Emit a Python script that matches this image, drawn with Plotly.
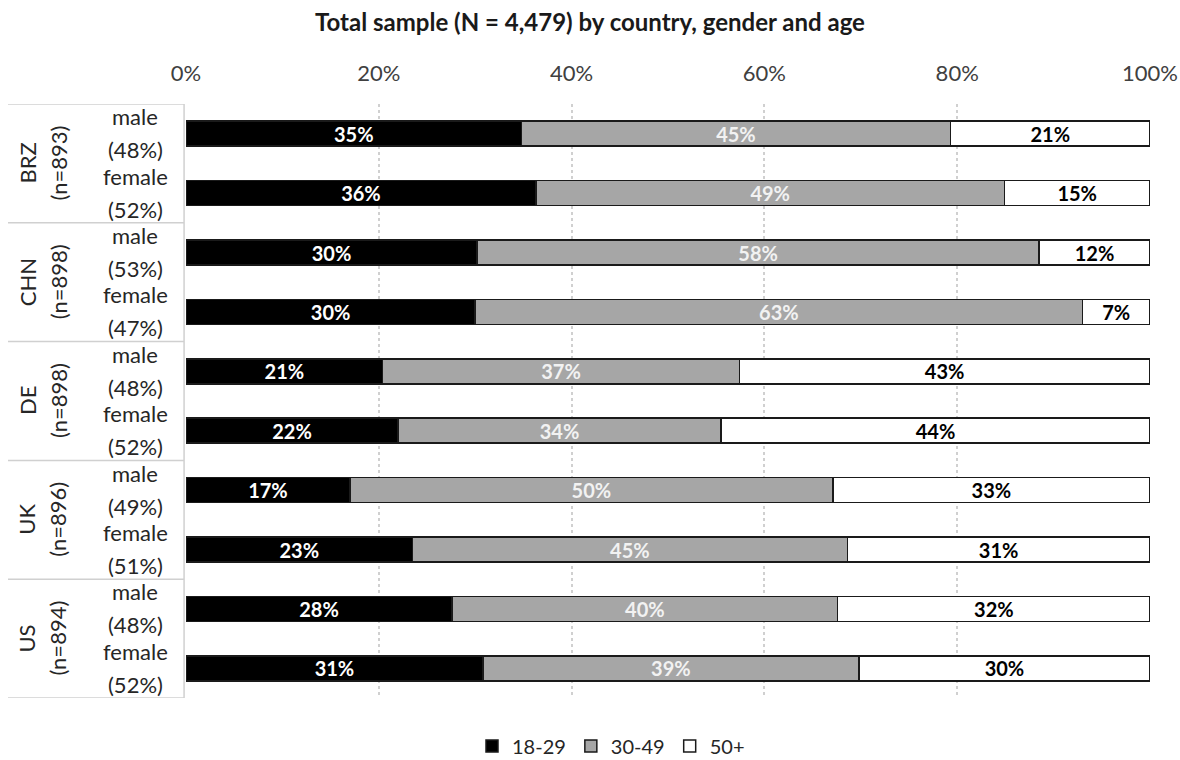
import plotly.graph_objects as go

country_names = ["BRZ", "CHN", "DE", "UK", "US"]
country_n = ["(n=893)", "(n=898)", "(n=898)", "(n=896)", "(n=894)"]
genders = ["male", "female", "male", "female", "male", "female", "male", "female", "male", "female"]
gender_shares = ["(48%)", "(52%)", "(53%)", "(47%)", "(48%)", "(52%)", "(49%)", "(51%)", "(48%)", "(52%)"]
rows = list(range(10))

age_18_29 = [34.8, 36.3, 30.2, 30.0, 20.4, 22.0, 17.0, 23.5, 27.6, 30.8]
age_30_49 = [44.5, 48.6, 58.3, 63.0, 37.0, 33.5, 50.1, 45.1, 40.0, 39.0]
age_50p = [20.7, 15.1, 11.5, 7.0, 42.6, 44.5, 32.9, 31.4, 32.4, 30.2]

lab_18_29 = ["35%", "36%", "30%", "30%", "21%", "22%", "17%", "23%", "28%", "31%"]
lab_30_49 = ["45%", "49%", "58%", "63%", "37%", "34%", "50%", "45%", "40%", "39%"]
lab_50p = ["21%", "15%", "12%", "7%", "43%", "44%", "33%", "31%", "32%", "30%"]

series = [
    ("18-29", age_18_29, lab_18_29, "#000000", "#ffffff"),
    ("30-49", age_30_49, lab_30_49, "#a6a6a6", "#f2f2f2"),
    ("50+", age_50p, lab_50p, "#ffffff", "#000000"),
]

FONT = "Lato, 'Open Sans', sans-serif"
TXT = "#262626"

fig = go.Figure()
for name, vals, labs, fill, tcol in series:
    fig.add_trace(go.Bar(
        y=rows, x=[v / 100 for v in vals], orientation="h", name=name,
        marker=dict(color=fill, line=dict(color="#1a1a1a", width=1.5)),
        text=labs, textposition="inside", insidetextanchor="middle",
        textfont=dict(family=FONT, size=20, color=tcol, weight="bold"),
        width=0.42, hoverinfo="skip",
    ))

shapes = []
LEFT = -178 / 964
for yb in [-0.5, 1.5, 3.5, 5.5, 7.5, 9.5]:
    shapes.append(dict(type="line", xref="paper", yref="y", x0=LEFT, x1=-0.002,
                       y0=yb, y1=yb, line=dict(color="#d0d0d0", width=1.5)))
shapes.append(dict(type="line", xref="paper", yref="y", x0=-0.002, x1=-0.002,
                   y0=-0.5, y1=9.5, line=dict(color="#d0d0d0", width=1.5)))

annotations = []
for i in rows:
    for txt, shift in ((genders[i], 17), (gender_shares[i], -16)):
        annotations.append(dict(xref="paper", yref="y", x=(135 - 186) / 964, y=i,
                                yshift=shift, text=txt, showarrow=False,
                                xanchor="center", yanchor="middle",
                                font=dict(family=FONT, size=22, color=TXT)))
for k in range(len(country_names)):
    for txt, xpos in ((country_names[k], 27), (country_n[k], 58)):
        annotations.append(dict(xref="paper", yref="y", x=(xpos - 186) / 964, y=2 * k + 0.5,
                                text=txt, showarrow=False, textangle=-90,
                                xanchor="center", yanchor="middle",
                                font=dict(family=FONT, size=22, color=TXT)))

fig.update_layout(
    width=1180, height=760,
    barmode="stack",
    plot_bgcolor="white", paper_bgcolor="white",
    margin=dict(l=186, r=30, t=104, b=62, autoexpand=False),
    title=dict(text="<b>Total sample (N = 4,479) by country, gender and age</b>",
               x=0.5, xanchor="center", y=1 - 23 / 760, yanchor="middle",
               font=dict(family=FONT, size=24, color="#1a1a1a")),
    xaxis=dict(range=[0, 1], side="top", tickvals=[0, 0.2, 0.4, 0.6, 0.8, 1.0],
               tickformat=".0%", showgrid=True, gridcolor="#d0d0d0", griddash="dot",
               gridwidth=1.5, zeroline=False, showline=False, ticks="",
               automargin=False, ticklabelstandoff=18,
               tickfont=dict(family=FONT, size=22, color="#404040")),
    yaxis=dict(range=[9.5, -0.5], showticklabels=False, showgrid=False,
               zeroline=False, showline=False, ticks="", automargin=False),
    legend=dict(orientation="h", x=(472 - 186) / 964, xanchor="left",
                y=-(746 - 698) / 594, yanchor="middle", traceorder="normal",
                itemwidth=30,
                font=dict(family=FONT, size=20, color=TXT)),
    shapes=shapes, annotations=annotations,
    uniformtext=dict(minsize=20, mode="show"),
)

fig.write_html("out.html")
